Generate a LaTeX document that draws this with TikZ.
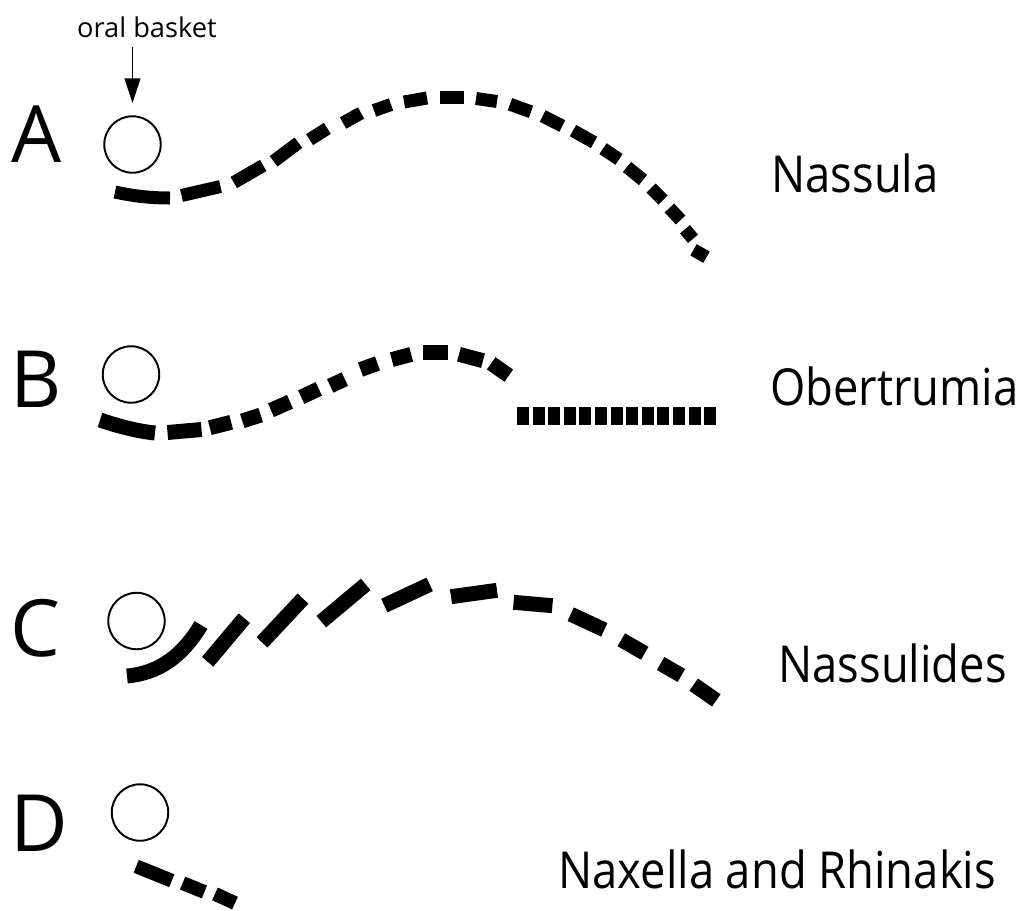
\documentclass[tikz,border=0pt]{standalone}
\usepackage{fontspec}
\setmainfont{Open Sans}
\usepackage{tikz}
\usetikzlibrary{arrows.meta, positioning}

\newcommand{\genusname}[1]{\scalebox{0.89}[1]{#1}}

\begin{document}
\begin{tikzpicture}[x=0.02cm, y=-0.02cm,
    basket/.style={circle, draw, line width=1.1pt, inner sep=0pt, minimum size=1.13cm},
    letter/.style={anchor=base west, inner sep=0pt, font=\fontsize{45}{45}\selectfont},
    genus/.style={anchor=base west, inner sep=0pt, font=\fontsize{29}{29}\selectfont},
    cilia/.style={line width=7.6pt}]
    \useasboundingbox (0,0) rectangle (1024,910);

    \node (LetterA) [letter] at (11,162) {A};
    \node (LetterB) [letter] at (10,407) {B};
    \node (LetterC) [letter] at (10,656) {C};
    \node (LetterD) [letter] at (10,851) {D};

    \node (BasketA) [basket] at (132.5,144.5) {};
    \node (BasketB) [basket] at (131,374.5) {};
    \node (BasketC) [basket] at (136.5,621) {};
    \node (BasketD) [basket] at (140,812.5) {};

    \node (Oral) [anchor=base, inner sep=0pt, font=\fontsize{15.5}{15.5}\selectfont] at (147,37) {oral basket};
    \draw[-{Triangle[length=14pt, width=9pt]}, line width=1.1pt, shorten <=5.5pt, shorten >=7pt]
        (BasketA.north |- Oral.south) -- (BasketA.north);

    \node (NameA) [genus] at (771,192) {\genusname{Nassula}};
    \node (NameB) [genus] at (770,405) {\genusname{Obertrumia}};
    \node (NameC) [genus] at (778,682) {\genusname{Nassulides}};
    \node (NameD) [genus] at (558,888) {\genusname{Naxella and Rhinakis}};

    \draw[cilia, line width=7.4pt] (115,192) .. controls (133,196) and (150,198) .. (170,198);
    \foreach \xa/\ya/\xb/\yb in {181.5/195.5/220.5/186.5, 233.8/182.5/263.2/165.5, 273.6/161.3/298.4/142.7,
        309.6/139.6/327.4/128.4, 343/123/361/113, 374/110.5/391/104.5, 404/102/427/98, 440/97/464/97,
        476/98.5/497/101.5, 510/104.2/531/111.8, 542.7/116/562.3/126, 573/130.6/594/142.4,
        603/148.6/619/159.4, 627/167/643/180, 651/188/663/200, 669.4/208/680.6/220,
        685/229.2/693/238.8, 693.5/249.8/706.5/257.2}
        \draw[cilia, line width=7.4pt] (\xa,\ya) -- (\xb,\yb);

    \draw[cilia, line width=8.5pt] (100,420) .. controls (118,426) and (136,431) .. (155,433);
    \foreach \xa/\ya/\xb/\yb in {167.5/432.5/201.5/429.5, 209.8/427.7/231.2/422.3, 242.3/421/260.7/415,
        271/410.2/290/401.8, 301.2/397.1/318.8/388.9, 330.2/385.9/344.8/379.1, 360.5/369.6/377.5/363.4,
        391.8/359.6/411.2/354.4, 423/352.5/448/352.5, 459/354.3/483/360.7, 491.2/363.3/508.8/375.7}
        \draw[cilia, line width=8.5pt] (\xa,\ya) -- (\xb,\yb);
    \foreach \i in {0,...,12}
        \draw[cilia, line width=10pt] (517+\i*15.6,416) -- ++(12,0);

    \draw[cilia, line width=8.5pt] (127,676) .. controls (160,673) and (183,655) .. (201,625);
    \foreach \xa/\ya/\xb/\yb in {207.7/661.8/244.3/618.2, 262/642.4/303/598.6, 321.3/621.6/365.7/584.4,
        384.3/605.6/429.7/584.4, 451/596.7/497/590.3, 513.6/602.3/552.4/605.7, 570.7/614.2/604.3/629.8,
        621.3/639.75/644.7/653.25, 660.6/663.5/681.4/675.5, 693.7/684.6/716.3/700.4}
        \draw[cilia, line width=8.5pt] (\xa,\ya) -- (\xb,\yb);

    \foreach \xa/\ya/\xb/\yb in {136.2/866.3/171.8/880.7, 182.6/883.1/204.4/891.9, 215/893.9/235/903.1}
        \draw[cilia, line width=7.9pt] (\xa,\ya) -- (\xb,\yb);
\end{tikzpicture}
\end{document}
